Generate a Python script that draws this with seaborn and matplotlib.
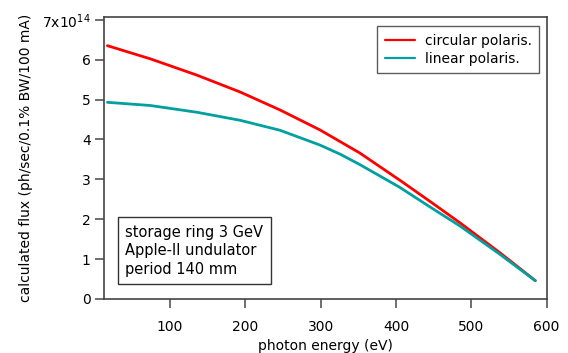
import matplotlib
matplotlib.use("Agg")
import matplotlib.pyplot as plt
import seaborn as sns
import pandas as pd

# Calculated undulator flux vs photon energy (units of 1e14 ph/sec/0.1% BW/100 mA)
energy_circ = [17, 74, 136, 193, 246, 299, 352, 405, 445, 485, 538, 585]
flux_circ = [6.35, 6.02, 5.61, 5.19, 4.74, 4.24, 3.66, 2.98, 2.45, 1.91, 1.16, 0.46]

energy_lin = [17, 74, 136, 193, 246, 299, 326, 352, 405, 445, 485, 538, 585]
flux_lin = [4.93, 4.85, 4.68, 4.48, 4.23, 3.86, 3.63, 3.37, 2.80, 2.31, 1.83, 1.12, 0.46]

series_names = ["circular polaris.", "linear polaris."]
series_colors = ["#ff0000", "#00a0a0"]

x_ticks = [100, 200, 300, 400, 500, 600]
y_ticks = [0, 1, 2, 3, 4, 5, 6, 7]
y_tick_labels = ["0", "1", "2", "3", "4", "5", "6", "7x10$^{14}$"]

info_lines = ["storage ring 3 GeV", "Apple-II undulator", "period 140 mm"]

df = pd.concat([
    pd.DataFrame({"energy": energy_circ, "flux": flux_circ, "mode": series_names[0]}),
    pd.DataFrame({"energy": energy_lin, "flux": flux_lin, "mode": series_names[1]}),
])

sns.set_style("ticks")
plt.rcParams["font.family"] = ["DejaVu Sans"]
plt.rcParams["text.color"] = "black"
plt.rcParams["axes.labelcolor"] = "black"

fig = plt.figure(figsize=(5.68, 3.53), dpi=100)
ax = fig.add_axes([0.183, 0.153, 0.78, 0.799])

sns.lineplot(data=df, x="energy", y="flux", hue="mode", palette=series_colors,
             hue_order=series_names, linewidth=2.0, ax=ax, sort=True)

ax.set_xlim(12.4, 600.5)
ax.set_ylim(0, 7.07)
ax.set_xticks(x_ticks)
ax.set_yticks(y_ticks)
ax.set_yticklabels(y_tick_labels)
ax.tick_params(axis="both", direction="out", length=6.5, width=1.2, color="#555555",
               labelsize=10, labelcolor="black")
ax.tick_params(axis="x", pad=8.5)
ax.tick_params(axis="y", pad=3)

for side in ["left", "right", "top", "bottom"]:
    ax.spines[side].set_visible(True)
    ax.spines[side].set_color("#444444")
    ax.spines[side].set_linewidth(1.2)

ax.set_xlabel("photon energy (eV)", fontsize=10, labelpad=3.5)
ax.set_ylabel("calculated flux (ph/sec/0.1% BW/100 mA)", fontsize=10, labelpad=6.5)

leg = ax.legend(loc="upper right", frameon=True, fontsize=10, fancybox=False,
                handlelength=2.2, handletextpad=0.65, borderpad=0.55,
                labelspacing=0.3, bbox_to_anchor=(0.998, 0.993))
leg.get_frame().set_edgecolor("#333333")
leg.get_frame().set_linewidth(1.0)
leg.set_title(None)
for line in leg.get_lines():
    line.set_linewidth(1.6)

ax.text(0.048, 0.264, "\n".join(info_lines), transform=ax.transAxes,
        fontsize=10.5, va="top", ha="left", linespacing=1.3,
        bbox=dict(boxstyle="square,pad=0.5", facecolor="white",
                  edgecolor="#333333", linewidth=1.0))

fig.savefig("out.png", dpi=100)
